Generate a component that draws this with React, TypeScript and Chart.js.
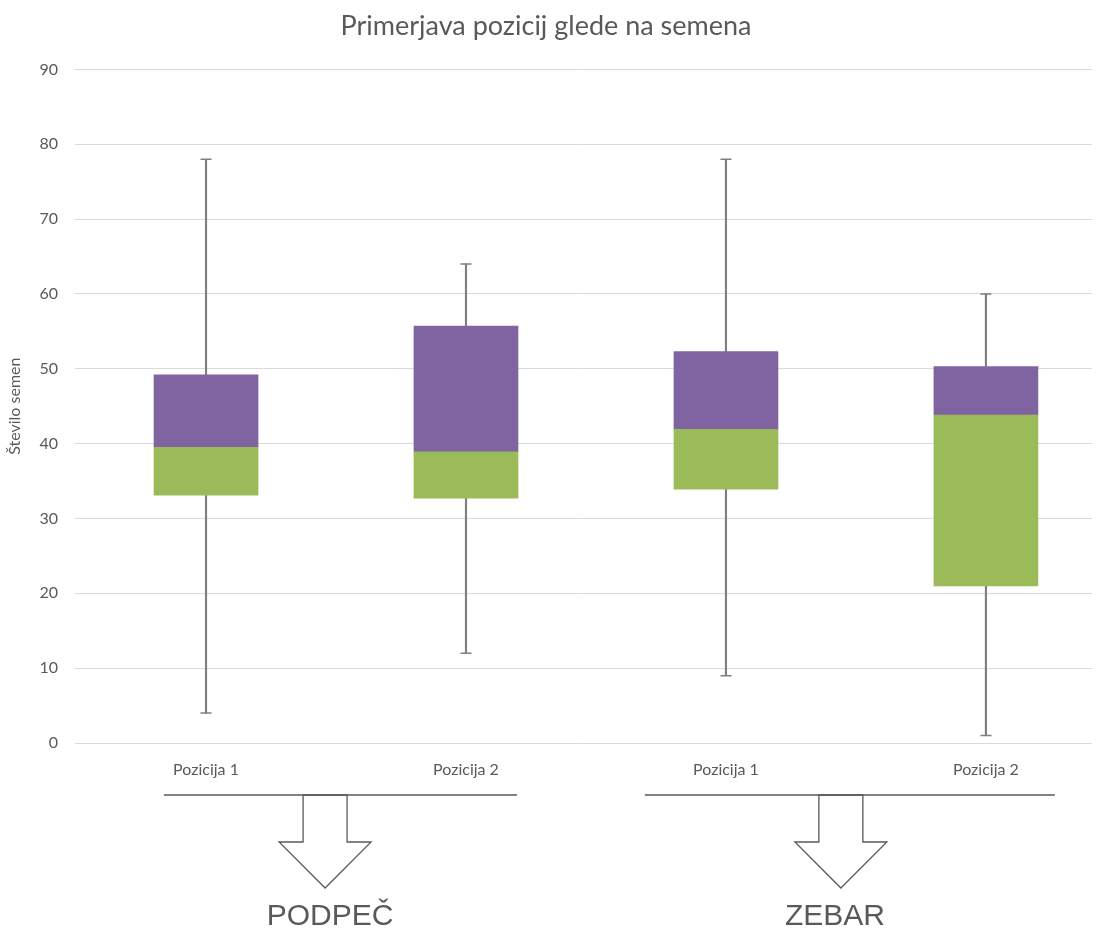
import React, { useEffect, useRef } from "react";
import { Chart, registerables } from "chart.js";

Chart.register(...registerables);

const categories = ["Pozicija 1", "Pozicija 2", "Pozicija 1", "Pozicija 2"];
const positions = [1, 2, 3, 4];
const minValues = [4, 12, 9, 1];
const q1Values = [33.1, 32.7, 33.9, 21.0];
const medianValues = [39.5, 38.9, 41.9, 43.8];
const q3Values = [49.2, 55.7, 52.3, 50.3];
const maxValues = [78, 64, 78, 60];

const groupLabels = ["PODPEČ", "ZEBAR"];
const groupStart = [0.838, 2.688];
const groupEnd = [2.196, 4.265];
const arrowX = [1.458, 3.442];
const labelX = [1.477, 3.419];

const TEXT = "#595959";
const GRID = "#d9d9d9";
const WHISKER = "#7f7f7f";
const PURPLE = "#8064a2";
const GREEN = "#9bbb59";
const FONT = "Lato, 'Open Sans', sans-serif";

const groupPlugin = {
  id: "groupAnnotations",
  afterDraw(chart: any) {
    const { ctx, chartArea } = chart;
    const xs = chart.scales.x;
    const bottom = chartArea.bottom;
    const lineY = bottom + 52;
    const shaftY = bottom + 99;
    const tipY = bottom + 145;
    const textY = bottom + 174;
    ctx.save();
    ctx.strokeStyle = TEXT;
    ctx.lineWidth = 1.3;
    for (let i = 0; i < groupLabels.length; i++) {
      const x0 = xs.getPixelForValue(groupStart[i]);
      const x1 = xs.getPixelForValue(groupEnd[i]);
      ctx.beginPath();
      ctx.moveTo(x0, lineY);
      ctx.lineTo(x1, lineY);
      ctx.stroke();
      const cx = xs.getPixelForValue(arrowX[i]);
      ctx.beginPath();
      ctx.moveTo(cx - 22, lineY);
      ctx.lineTo(cx - 22, shaftY);
      ctx.lineTo(cx - 46, shaftY);
      ctx.lineTo(cx, tipY);
      ctx.lineTo(cx + 46, shaftY);
      ctx.lineTo(cx + 22, shaftY);
      ctx.lineTo(cx + 22, lineY);
      ctx.closePath();
      ctx.stroke();
      ctx.fillStyle = TEXT;
      ctx.font = "30px 'Liberation Sans', Arial, sans-serif";
      ctx.textAlign = "center";
      ctx.textBaseline = "middle";
      ctx.fillText(groupLabels[i], xs.getPixelForValue(labelX[i]), textY);
    }
    ctx.restore();
  },
};

export default function App() {
  const ref = useRef<HTMLCanvasElement>(null);

  useEffect(() => {
    if (!ref.current) return;
    const lowerBox = positions.map((x, i) => ({ x, y: [q1Values[i], medianValues[i]] }));
    const upperBox = positions.map((x, i) => ({ x, y: [medianValues[i], q3Values[i]] }));
    const lowerWhisker = positions.map((x, i) => ({ x, y: [minValues[i], q1Values[i]] }));
    const upperWhisker = positions.map((x, i) => ({ x, y: [q3Values[i], maxValues[i]] }));
    const caps = [
      ...positions.map((x, i) => ({ x, y: maxValues[i] })),
      ...positions.map((x, i) => ({ x, y: minValues[i] })),
    ];

    const chart = new Chart(ref.current, {
      type: "bar",
      data: {
        datasets: [
          {
            type: "scatter",
            label: "caps",
            data: caps,
            pointStyle: "line",
            pointRadius: 5.5,
            pointHoverRadius: 5.5,
            borderColor: WHISKER,
            backgroundColor: WHISKER,
            borderWidth: 1.5,
            order: 0,
          } as any,
          {
            label: "lowerBox",
            data: lowerBox as any,
            backgroundColor: GREEN,
            barThickness: 104,
            grouped: false,
            order: 1,
          },
          {
            label: "upperBox",
            data: upperBox as any,
            backgroundColor: PURPLE,
            barThickness: 104,
            grouped: false,
            order: 1,
          },
          {
            label: "lowerWhisker",
            data: lowerWhisker as any,
            backgroundColor: WHISKER,
            barThickness: 1.5,
            grouped: false,
            order: 2,
          },
          {
            label: "upperWhisker",
            data: upperWhisker as any,
            backgroundColor: WHISKER,
            barThickness: 1.5,
            grouped: false,
            order: 2,
          },
        ],
      },
      options: {
        animation: false,
        responsive: true,
        maintainAspectRatio: false,
        layout: { padding: { left: 0, right: 10, top: 0, bottom: 147 } },
        plugins: {
          legend: { display: false },
          tooltip: { enabled: false },
          title: {
            display: true,
            text: "Primerjava pozicij glede na semena",
            color: TEXT,
            font: { family: FONT, size: 27, weight: "normal" },
            padding: { top: 10, bottom: 27 },
          },
        },
        scales: {
          x: {
            type: "linear",
            offset: false,
            min: 0.496,
            max: 4.408,
            grid: { display: false, offset: false },
            border: { display: false },
            afterBuildTicks: (scale: any) => {
              scale.ticks = positions.map((v) => ({ value: v }));
            },
            afterFit: (scale: any) => {
              scale.height = 40;
            },
            ticks: {
              padding: 9,
              color: TEXT,
              font: { family: FONT, size: 16 },
              callback: (v: any) => categories[Math.round(Number(v)) - 1] ?? "",
              maxRotation: 0,
              autoSkip: false,
            },
          },
          y: {
            type: "linear",
            min: 0,
            max: 90,
            grid: { color: GRID, drawTicks: false, lineWidth: 1 },
            border: { display: false },
            afterFit: (scale: any) => {
              scale.width = 75;
            },
            ticks: {
              stepSize: 10,
              padding: 17,
              color: TEXT,
              font: { family: FONT, size: 16 },
            },
            title: {
              display: true,
              text: "Število semen",
              color: TEXT,
              font: { family: FONT, size: 16 },
              padding: { top: 5, bottom: 0 },
            },
          },
        },
      } as any,
      plugins: [groupPlugin],
    });
    return () => chart.destroy();
  }, []);

  return (
    <div style={{ position: "absolute", left: 0, top: 0, width: 1102, height: 930, background: "#fff" }}>
      <canvas ref={ref} />
    </div>
  );
}
